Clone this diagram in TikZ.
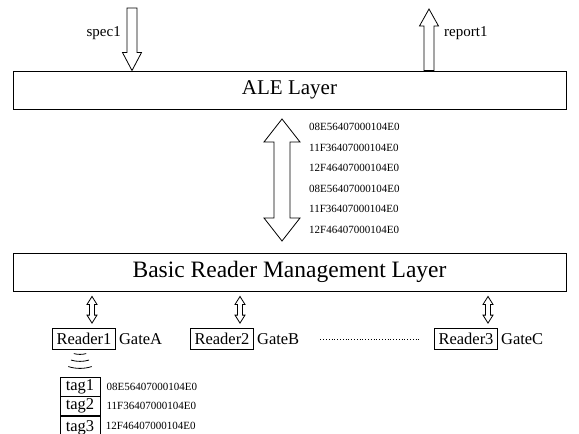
\documentclass[tikz,border=0pt]{standalone}
\usepackage{fontspec}
\setmainfont{Liberation Serif}
\usetikzlibrary{calc,positioning}
\tikzset{
  layerbox/.style={draw,line width=0.9pt,minimum width=553pt,minimum height=38pt,
    inner sep=0pt,font=\fontsize{21}{25}\selectfont},
  readerbox/.style={draw,line width=0.8pt,minimum height=21pt,inner xsep=4pt,
    inner ysep=0pt,font=\fontsize{16.5}{19}\selectfont},
  gatelabel/.style={inner sep=1pt,font=\fontsize{16.5}{19}\selectfont},
  tagbox/.style={draw,line width=0.8pt,minimum width=40pt,minimum height=19pt,
    inner sep=0pt,font=\fontsize{16.5}{19}\selectfont},
  hexlabel/.style={inner sep=0pt,anchor=west,font=\fontsize{11}{13}\selectfont},
  msglabel/.style={inner sep=0pt,font=\fontsize{15}{18}\selectfont},
  hollow/.style={draw,line width=0.8pt,line join=miter},
  waves/.style={line width=0.8pt}
}
% hollow arrows: #1 tail, #2 tip, #3 half shaft, #4 half head, #5 head length
\newcommand{\hollowarrow}[5]{%
  \draw[hollow] let \p1=(#1), \p2=(#2), \n1={ifthenelse(\y2>\y1,1,-1)} in
    (\x1-#3,\y1) -- (\x1+#3,\y1) -- (\x1+#3,\y2-\n1*#5) -- (\x1+#4,\y2-\n1*#5)
    -- (\x2,\y2) -- (\x1-#4,\y2-\n1*#5) -- (\x1-#3,\y2-\n1*#5) -- cycle;}
\newcommand{\hollowdouble}[5]{%
  \draw[hollow] let \p1=(#1), \p2=(#2), \n1={ifthenelse(\y2>\y1,1,-1)} in
    (\x1,\y1) -- (\x1+#4,\y1+\n1*#5) -- (\x1+#3,\y1+\n1*#5) -- (\x1+#3,\y2-\n1*#5)
    -- (\x1+#4,\y2-\n1*#5) -- (\x2,\y2) -- (\x1-#4,\y2-\n1*#5) -- (\x1-#3,\y2-\n1*#5)
    -- (\x1-#3,\y1+\n1*#5) -- (\x1-#4,\y1+\n1*#5) -- cycle;}

\begin{document}
\begin{tikzpicture}[x=1pt,y=1pt]
  \useasboundingbox (0,0) rectangle (579,-434);
  % the two layers
  \node[layerbox] (ale) at (289.5,-90) {ALE Layer};
  \node[layerbox,font=\fontsize{23.5}{27}\selectfont] (brm) at (289.5,-272)
    {Basic Reader Management Layer};
  % spec in, report out
  \coordinate (specin) at (132,-8);
  \coordinate (reportout) at (429,-9);
  \node[msglabel,anchor=east] (spec) at (121,-33) {spec1};
  \node[msglabel,anchor=west] (report) at (444,-33) {report1};
  \hollowarrow{specin}{specin |- ale.north}{5}{9.5}{18}
  \hollowarrow{reportout |- ale.north}{reportout}{5}{9.5}{17}
  % tag data between the layers
  \coordinate (busup) at (282,-119);
  \coordinate (busdown) at (282,-241);
  \hollowdouble{busup}{busdown}{8}{18}{23}
  \foreach \hex [count=\i] in {08E56407000104E0,11F36407000104E0,12F46407000104E0,
      08E56407000104E0,11F36407000104E0,12F46407000104E0}
    \node[hexlabel] (hex\i) at (309,{-127-20.5*(\i-1)}) {\hex};
  % readers
  \node[readerbox] (r1) at (84,-339) {Reader1};
  \node[gatelabel,right=2pt of r1] (g1) {GateA};
  \node[readerbox] (r2) at (222,-339) {Reader2};
  \node[gatelabel,right=2pt of r2] (g2) {GateB};
  \node[readerbox] (r3) at (466,-339) {Reader3};
  \node[gatelabel,right=2pt of r3] (g3) {GateC};
  \draw[dotted,line width=0.8pt,shorten <=20pt,shorten >=14pt] (g2.east) -- (r3.west);
  \foreach \r/\x in {r1/92,r2/240,r3/488} {
    \coordinate (\r top) at ($(brm.south -| \x,0)+(0,-5)$);
    \coordinate (\r bot) at ($(\r.north -| \x,0)+(0,5)$);
    \hollowdouble{\r top}{\r bot}{2.5}{5}{8}
  }
  % radio waves and tags
  \coordinate (wavecenter) at ($(r1.south)+(-4,19.5)$);
  \foreach \rad/\half in {24/15,31/17,38/18}
    \draw[waves] (wavecenter) ++(270-\half:\rad) arc (270-\half:270+\half:\rad);
  \node[tagbox] (t1) at (80,-386.5) {tag1};
  \node[tagbox,below=0pt of t1] (t2) {tag2};
  \node[tagbox,below=0pt of t2,minimum height=22pt] (t3) {tag3};
  \node[hexlabel,right=6pt of t1] (th1) {08E56407000104E0};
  \node[hexlabel,right=6pt of t2] (th2) {11F36407000104E0};
  \node[hexlabel,right=6pt of t3.west,xshift=40pt,yshift=1.5pt] (th3) {12F46407000104E0};
\end{tikzpicture}
\end{document}
